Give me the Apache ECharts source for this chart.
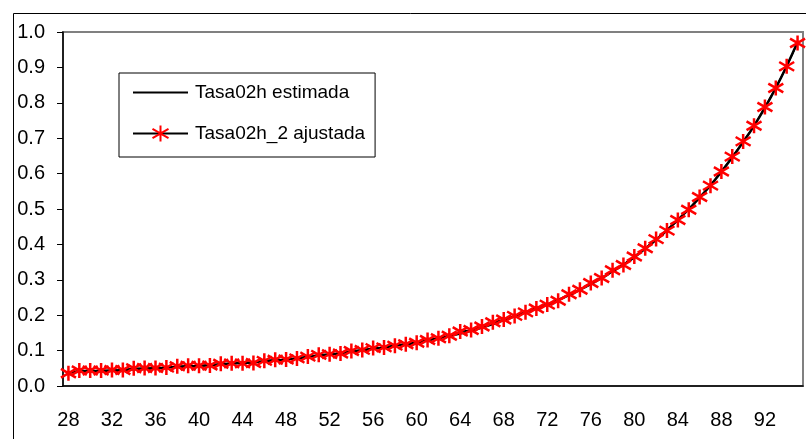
<!DOCTYPE html>
<html>
<head>
<meta charset="utf-8">
<script src="https://cdn.jsdelivr.net/npm/echarts@6/dist/echarts.min.js"></script>
<style>html,body{margin:0;padding:0;background:#fff;}#c{width:806px;height:439px;}</style>
</head>
<body>
<div id="c"></div>
<script>
var ages = [];
for (var a = 28; a <= 95; a++) ages.push(String(a));

var estimada = [0.038,0.040,0.041,0.042,0.043,0.045,0.047,0.048,0.050,0.052,
  0.054,0.055,0.057,0.059,0.061,0.063,0.065,0.067,0.070,0.072,
  0.075,0.078,0.082,0.086,0.089,0.093,0.097,0.101,0.105,0.109,
  0.114,0.118,0.123,0.129,0.135,0.141,0.148,0.156,0.165,0.175,
  0.186,0.197,0.208,0.219,0.230,0.243,0.257,0.272,0.288,0.305,
  0.324,0.343,0.364,0.388,0.413,0.440,0.469,0.500,0.532,0.567,
  0.605,0.646,0.689,0.735,0.786,0.842,0.904,0.972];

var ajustada = [0.036,0.044,0.044,0.044,0.045,0.045,0.050,0.051,0.051,0.052,
  0.056,0.057,0.057,0.058,0.063,0.064,0.064,0.065,0.071,0.074,
  0.075,0.078,0.083,0.088,0.090,0.092,0.099,0.102,0.107,0.109,
  0.114,0.118,0.122,0.130,0.135,0.142,0.154,0.158,0.168,0.180,
  0.188,0.198,0.208,0.219,0.230,0.241,0.259,0.272,0.291,0.305,
  0.327,0.342,0.366,0.389,0.415,0.439,0.469,0.498,0.534,0.566,
  0.606,0.648,0.691,0.735,0.788,0.842,0.903,0.969];

var seriesNames = ['Tasa02h estimada', 'Tasa02h_2 ajustada'];

var FONT = '"Liberation Sans", Arial, sans-serif';
var chart = echarts.init(document.getElementById('c'), null, {renderer: 'canvas'});
chart.setOption({
  animation: false,
  backgroundColor: '#ffffff',
  graphic: [{
    type: 'rect', left: 11, top: 11,
    shape: {width: 820, height: 460},
    style: {fill: 'none', stroke: '#000', lineWidth: 1},
    z: -10, silent: true
  }],
  grid: {left: 63, top: 32, right: 3, bottom: 53, show: true, borderColor: '#808080', borderWidth: 2, containLabel: false},
  legend: {
    orient: 'vertical', left: 119, top: 73,
    padding: [10, 10, 14, 13],
    itemWidth: 55, itemHeight: 20, itemGap: 22,
    backgroundColor: '#fff',
    borderColor: '#000', borderWidth: 1,
    textStyle: {fontFamily: FONT, fontSize: 19, color: '#000', padding: [0, 0, 0, 2]},
    data: seriesNames
  },
  xAxis: {
    type: 'category', data: ages, boundaryGap: true,
    axisLine: {lineStyle: {color: '#000', width: 1.5}},
    axisTick: {interval: 4, length: 6, lineStyle: {color: '#000'}},
    axisLabel: {interval: 3, margin: 24, fontFamily: FONT, fontSize: 20, color: '#000'},
    splitLine: {show: false}
  },
  yAxis: {
    type: 'value', min: 0, max: 1, interval: 0.1,
    axisLine: {show: true, lineStyle: {color: '#000', width: 1.5}},
    axisTick: {show: true, length: 6, lineStyle: {color: '#000'}},
    axisLabel: {margin: 18, fontFamily: FONT, fontSize: 20, color: '#000',
      formatter: function (v) { return v.toFixed(1); }},
    splitLine: {show: false}
  },
  series: [{
    name: seriesNames[0], type: 'line', data: estimada, smooth: true,
    symbol: 'circle', showSymbol: false,
    lineStyle: {color: '#000', width: 2.5},
    itemStyle: {color: 'rgba(0,0,0,0)', borderWidth: 0}, z: 2
  }, {
    name: seriesNames[1], type: 'line', data: ajustada,
    symbol: 'path://M6,0L6,12M0,2.5L12,9.5M0,9.5L12,2.5', symbolSize: [15, 15],
    showAllSymbol: true,
    lineStyle: {color: '#000', width: 1.5},
    itemStyle: {color: '#ff0000', borderColor: '#ff0000', borderWidth: 2.5},
    z: 3
  }]
});
</script>
</body>
</html>
